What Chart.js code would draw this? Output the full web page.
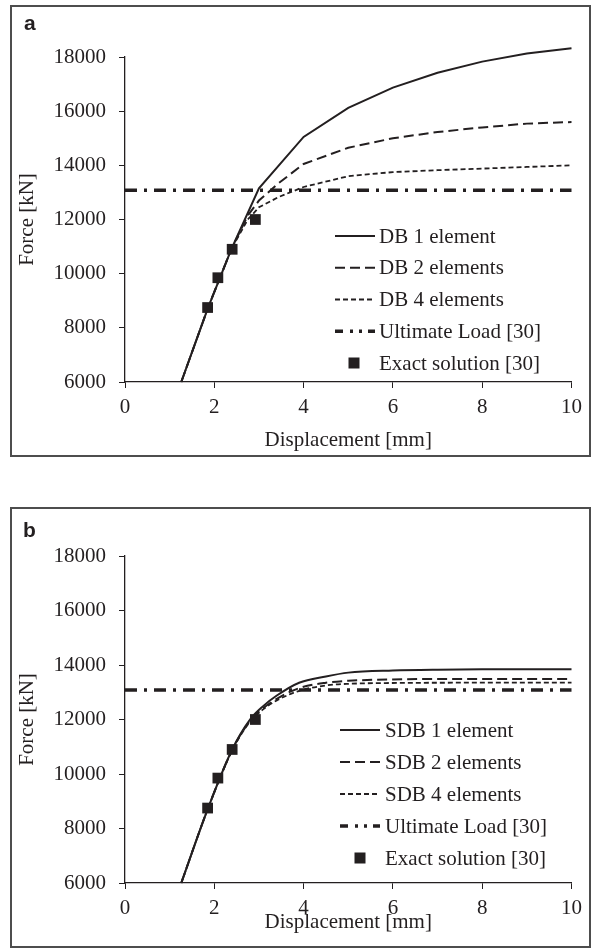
<!DOCTYPE html>
<html lang="en">
<head>
<meta charset="UTF-8">
<title>Force - displacement</title>
<script src="https://cdn.jsdelivr.net/npm/chart.js"></script>
<style>
  body { margin: 0; background: #fff; width: 599px; height: 948px; position: relative; overflow: hidden; }
  .panel { position: absolute; left: 10px; width: 581px; border: 2px solid #4d4d4d; box-sizing: border-box; }
  #panelA { top: 5px; height: 452px; }
  #panelB { top: 507px; height: 441px; }
  canvas { display: block; }
</style>
</head>
<body>
<div class="panel" id="panelA"><canvas id="chartA" width="577" height="448"></canvas></div>
<div class="panel" id="panelB"><canvas id="chartB" width="577" height="437"></canvas></div>

<script>
// ---- data ----
// panel a (DB elements)
const db1X = [1.26, 1.85, 2.38, 3.0, 4, 5, 6, 7, 8, 9, 10];
const db1Y = [6000, 8700, 10900, 13150, 15050, 16120, 16870, 17420, 17830, 18130, 18320];
const db2X = [1.26, 1.85, 2.38, 2.75, 3.0, 3.44, 4, 5, 6, 7, 8, 9, 10];
const db2Y = [6000, 8700, 10900, 12150, 12700, 13340, 14050, 14650, 15000, 15230, 15400, 15540, 15600];
const db4X = [1.26, 1.85, 2.38, 2.75, 3.0, 3.44, 4, 5, 6, 7, 8, 9, 10];
const db4Y = [6000, 8700, 10900, 12000, 12450, 12830, 13200, 13600, 13750, 13820, 13880, 13940, 14000];

// panel b (SDB elements)
const sdb1X = [1.26, 1.85, 2.4, 2.8, 3.1, 3.4, 3.9, 4.5, 5, 6, 7, 8, 10];
const sdb1Y = [6000, 8700, 10900, 12000, 12500, 12880, 13350, 13580, 13720, 13800, 13830, 13840, 13840];
const sdb2X = [1.26, 1.85, 2.4, 2.8, 3.1, 3.4, 3.9, 4.5, 5, 6, 8, 10];
const sdb2Y = [6000, 8700, 10880, 11950, 12420, 12760, 13150, 13350, 13420, 13470, 13490, 13490];
const sdb4X = [1.26, 1.85, 2.4, 2.8, 3.1, 3.4, 3.9, 4.5, 5, 6, 8, 10];
const sdb4Y = [6000, 8700, 10860, 11920, 12380, 12700, 13050, 13250, 13310, 13340, 13350, 13350];

// shared reference values
const exactX = [1.85, 2.08, 2.4, 2.92];
const exactY = [8750, 9850, 10900, 12000];
const ultimateX = [0, 10];
const ultimateLoad = 13080;

const xTicks = [0, 2, 4, 6, 8, 10];
const yTicks = [6000, 8000, 10000, 12000, 14000, 16000, 18000];

const ink = '#231f20';
const serif = '"Liberation Serif", "Times New Roman", serif';

function pts(xs, ys) {
    return xs.map((x, i) => ({ x: x, y: ys[i] }));
}

// legend drawn inside the plot + panel letter
const insideLegend = {
    id: 'insideLegend',
    afterDraw(chart, args, o) {
        const ctx = chart.ctx;
        ctx.save();
        ctx.fillStyle = ink;
        ctx.strokeStyle = ink;
        ctx.font = '21px ' + serif;
        ctx.textBaseline = 'middle';
        ctx.textAlign = 'left';
        chart.data.datasets.forEach((ds, i) => {
            const y = o.y0 + i * o.gap;
            if (ds.showLine === false) {
                ctx.fillRect(o.markX - 5.5, y - 5.5, 11, 11);
            } else {
                ctx.lineWidth = ds.borderWidth;
                ctx.setLineDash(ds.legendDash || ds.borderDash || []);
                ctx.beginPath();
                ctx.moveTo(o.x1, y);
                ctx.lineTo(o.x2, y);
                ctx.stroke();
                ctx.setLineDash([]);
            }
            ctx.fillText(ds.label, o.textX, y + 1);
        });
        ctx.font = 'bold 21px "Liberation Sans", Arial, sans-serif';
        ctx.textBaseline = 'alphabetic';
        ctx.fillText(o.letter, o.letterX, o.letterY);
        ctx.restore();
    }
};

function makeChart(id, names, series, cfg) {
    const datasets = [
        { label: names[0], data: series[0], borderWidth: 2, borderDash: [] },
        { label: names[1], data: series[1], borderWidth: 2, borderDash: [10, 5] },
        { label: names[2], data: series[2], borderWidth: 1.8, borderDash: [5, 3] },
        { label: 'Ultimate Load [30]', data: pts(ultimateX, ultimateX.map(() => ultimateLoad)),
          borderWidth: 3.5, borderDash: [12, 7, 3, 7], legendDash: [8, 7, 3, 6, 3, 6, 8] },
        { label: 'Exact solution [30]', data: pts(exactX, exactY), showLine: false,
          pointStyle: 'rect', pointRadius: 7.6, pointBackgroundColor: ink, pointBorderWidth: 0, order: -1 }
    ];
    datasets.forEach(d => {
        d.borderColor = ink;
        d.backgroundColor = ink;
        d.fill = false;
        d.clip = false;
        if (d.showLine !== false) {
            d.pointRadius = 0;
            d.tension = cfg.tension;
            if (cfg.tension > 0) d.cubicInterpolationMode = 'monotone';
        }
    });

    return new Chart(document.getElementById(id), {
        type: 'scatter',
        data: { datasets: datasets },
        options: {
            responsive: false,
            animation: false,
            showLine: true,
            layout: { padding: { left: 0, top: cfg.top, right: cfg.right, bottom: 0 } },
            plugins: {
                legend: { display: false },
                tooltip: { enabled: false },
                insideLegend: cfg.legend
            },
            scales: {
                x: {
                    type: 'linear', min: 0, max: 10,
                    afterBuildTicks: s => { s.ticks = xTicks.map(v => ({ value: v })); },
                    afterFit: s => { s.height = cfg.xHeight; },
                    grid: { drawOnChartArea: false, tickLength: 6, color: ink },
                    border: { color: ink, width: 1.3 },
                    ticks: { color: ink, padding: 7, font: { family: serif, size: 21 }, maxRotation: 0 },
                    title: { display: true, text: 'Displacement [mm]', color: ink,
                             font: { family: serif, size: 21 }, padding: { top: 0, bottom: cfg.xTitlePad } }
                },
                y: {
                    type: 'linear', min: 6000, max: 18000,
                    afterBuildTicks: s => { s.ticks = yTicks.map(v => ({ value: v })); },
                    afterFit: s => { s.width = 113; },
                    grid: { drawOnChartArea: false, tickLength: 6, color: ink },
                    border: { color: ink, width: 1.3 },
                    ticks: { color: ink, padding: 13, font: { family: serif, size: 21 }, callback: v => String(v) },
                    title: { display: true, text: 'Force [kN]', color: ink,
                             font: { family: serif, size: 21 }, padding: { top: 3, bottom: 0 } }
                }
            }
        },
        plugins: [insideLegend]
    });
}

makeChart('chartA', ['DB 1 element', 'DB 2 elements', 'DB 4 elements'],
    [pts(db1X, db1Y), pts(db2X, db2Y), pts(db4X, db4Y)],
    { tension: 0, top: 50, right: 16, xHeight: 73, xTitlePad: 2,
      legend: { y0: 229, gap: 31.75, x1: 323, x2: 363, markX: 342, textX: 367,
                letter: 'a', letterX: 12, letterY: 23 } });

makeChart('chartB', ['SDB 1 element', 'SDB 2 elements', 'SDB 4 elements'],
    [pts(sdb1X, sdb1Y), pts(sdb2X, sdb2Y), pts(sdb4X, sdb4Y)],
    { tension: 0.4, top: 47, right: 12, xHeight: 63, xTitlePad: 11,
      legend: { y0: 221, gap: 32, x1: 328, x2: 368, markX: 348, textX: 373,
                letter: 'b', letterX: 11, letterY: 28 } });
</script>
</body>
</html>
